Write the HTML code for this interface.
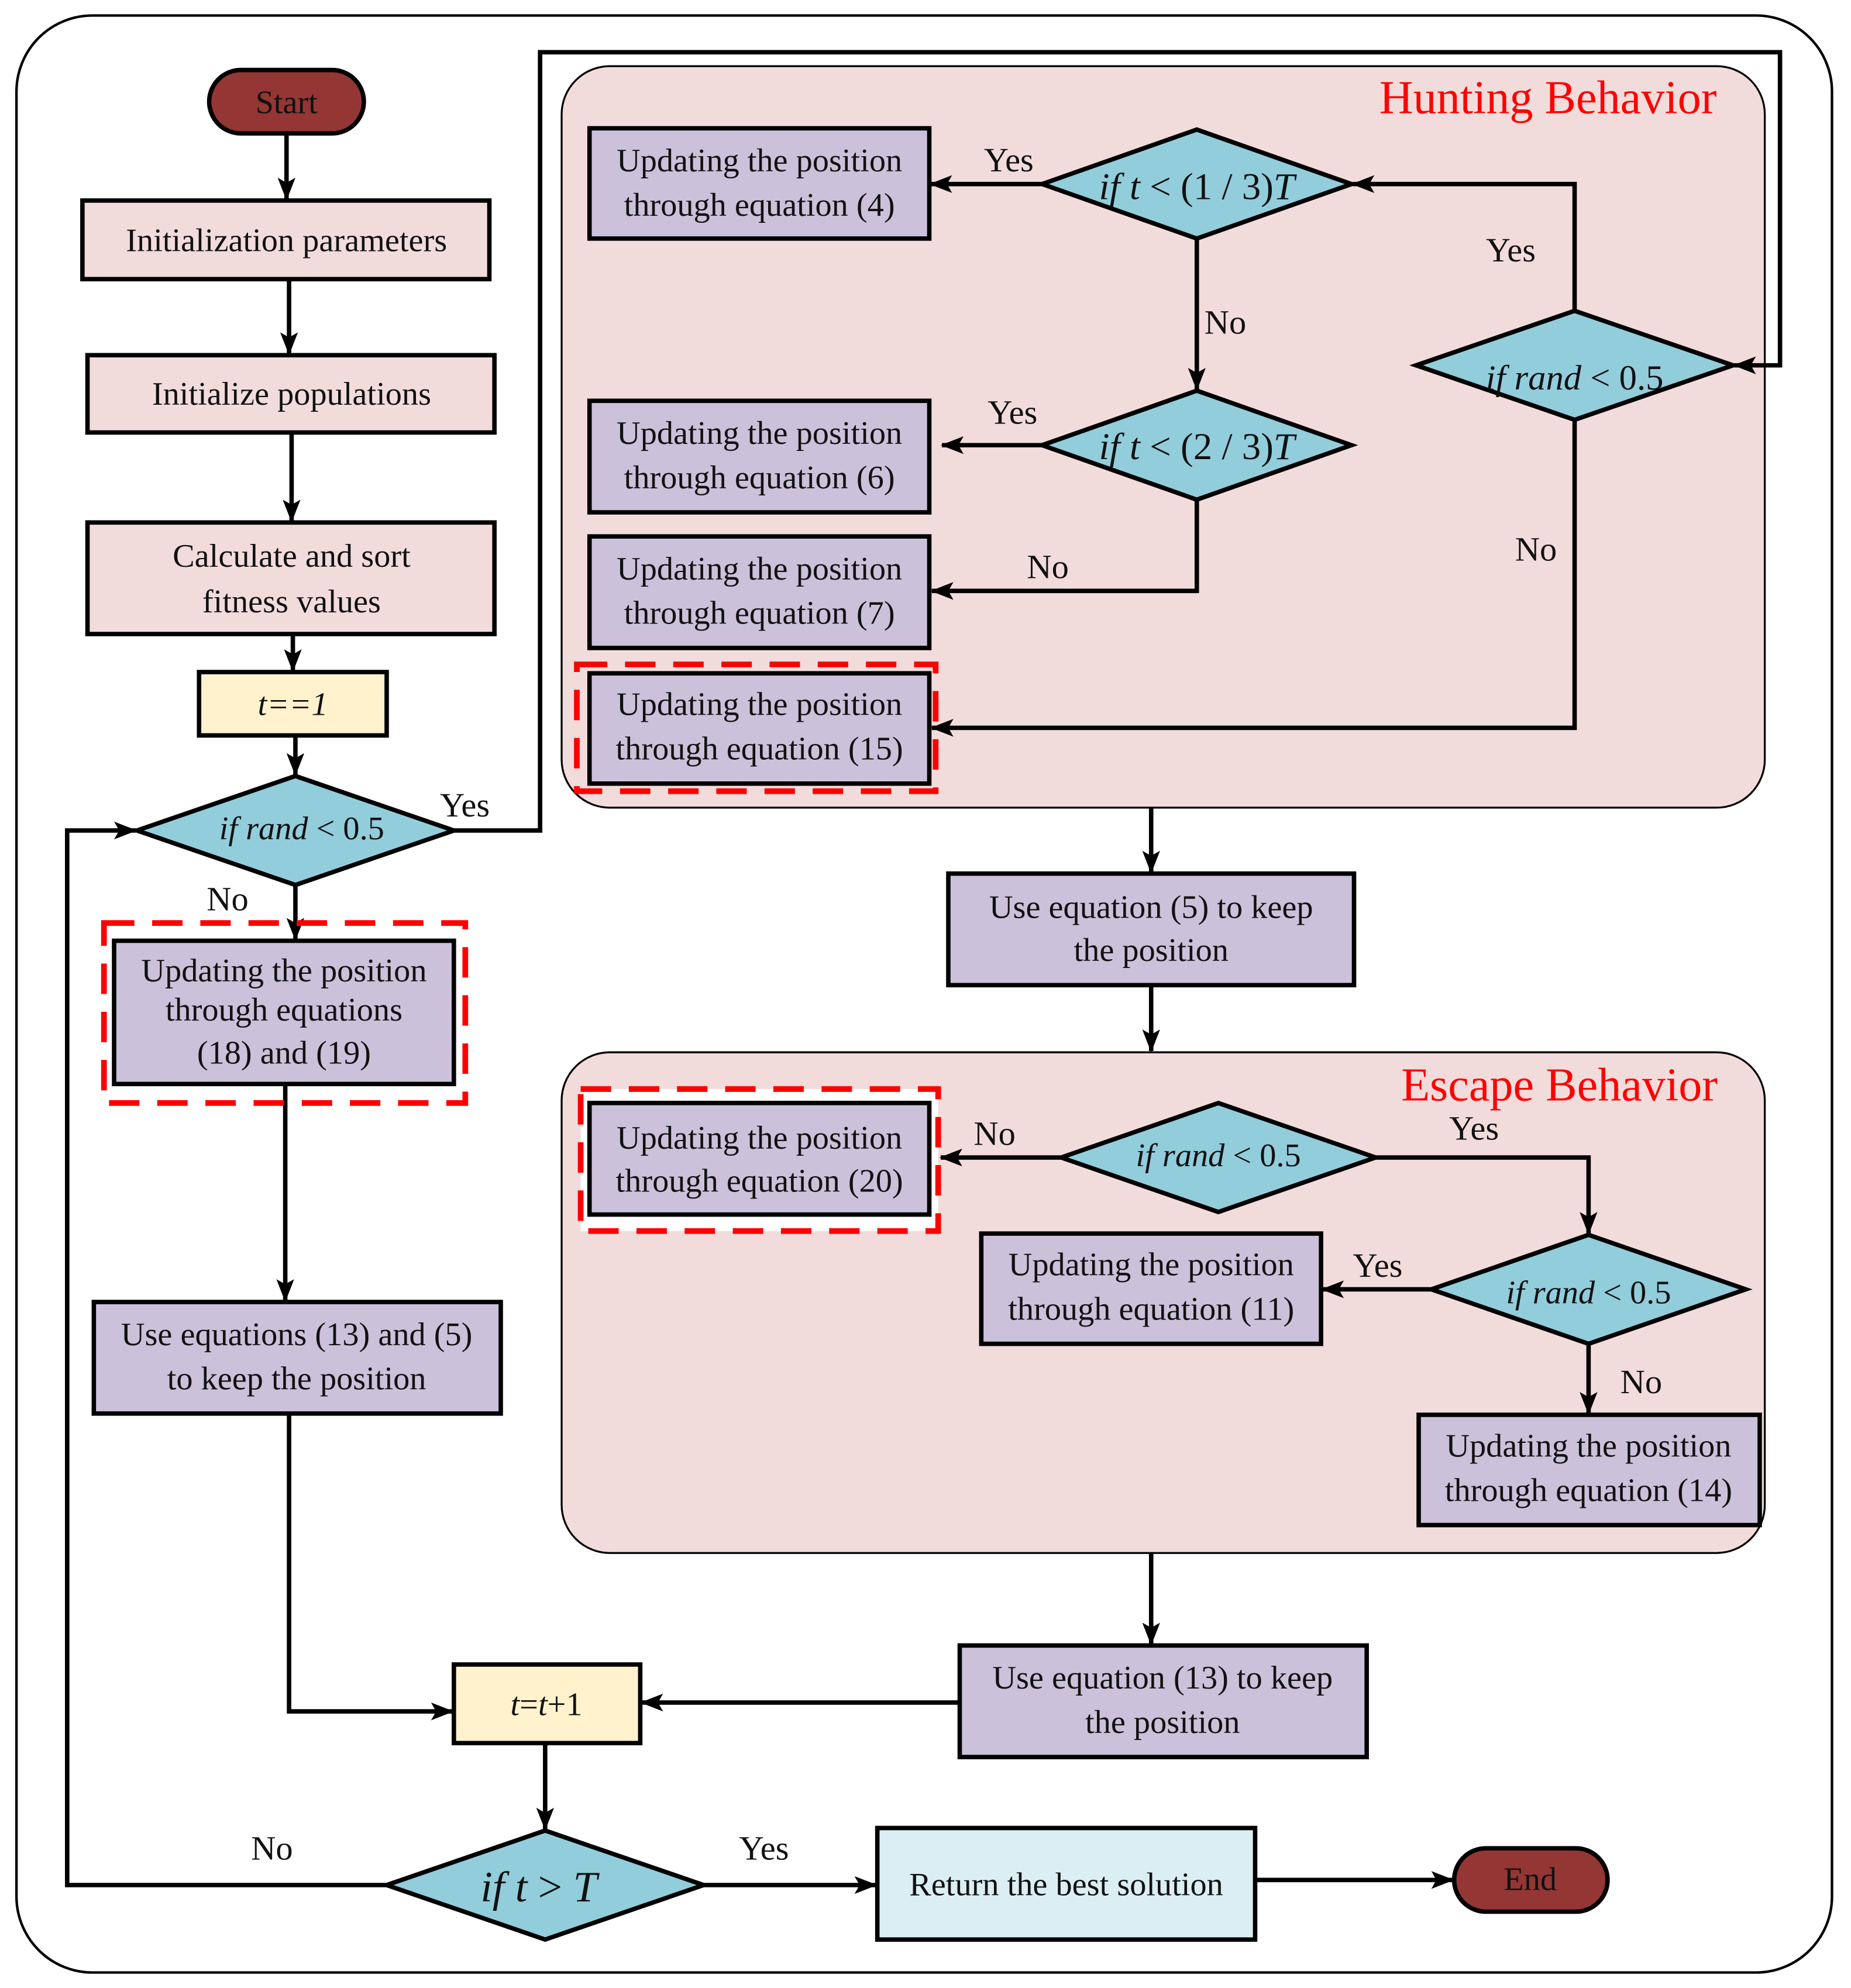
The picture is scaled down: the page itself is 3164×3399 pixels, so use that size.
<!DOCTYPE html>
<html><head><meta charset="utf-8"><style>
html,body{margin:0;padding:0;background:#fff}
svg{display:block}
text{font-family:"Liberation Serif",serif;fill:#111}
</style></head><body>
<svg width="3164" height="3399" viewBox="0 0 1460 1568" xmlns="http://www.w3.org/2000/svg">
<defs>
<marker id="a" markerWidth="18" markerHeight="14" refX="17" refY="7" orient="auto" markerUnits="userSpaceOnUse" viewBox="0 0 18 14">
<path d="M0,0 L18,7 L0,14 L4,7 z" fill="#000"/></marker>
</defs>
<rect x="13" y="12" width="1432" height="1544" rx="60" fill="#fff" stroke="#000" stroke-width="2"/>
<rect x="443" y="52" width="949" height="585" rx="38" fill="#f2dcdb" stroke="#000" stroke-width="1.5"/>
<rect x="443" y="830" width="949" height="395" rx="38" fill="#f2dcdb" stroke="#000" stroke-width="1.5"/>
<text x="1221" y="89" font-size="37" text-anchor="middle" style="fill:#ff0000">Hunting Behavior</text>
<text x="1230" y="868" font-size="37" text-anchor="middle" style="fill:#ff0000">Escape Behavior</text>

<g stroke="#000" stroke-width="3.5" fill="none">
<line x1="226" y1="105" x2="226" y2="157" marker-end="url(#a)"/>
<line x1="228" y1="220" x2="228" y2="279" marker-end="url(#a)"/>
<line x1="230" y1="341" x2="230" y2="411" marker-end="url(#a)"/>
<line x1="231" y1="500" x2="231" y2="529" marker-end="url(#a)"/>
<line x1="233" y1="580" x2="233" y2="611" marker-end="url(#a)"/>
<line x1="233" y1="698" x2="233" y2="741" marker-end="url(#a)"/>
<line x1="225" y1="855" x2="225" y2="1026" marker-end="url(#a)"/>
<polyline points="228,1115 228,1350 357,1350" marker-end="url(#a)"/>
<line x1="756" y1="1343" x2="506" y2="1343" marker-end="url(#a)"/>
<line x1="430" y1="1375" x2="430" y2="1443" marker-end="url(#a)"/>
<line x1="555" y1="1487" x2="691" y2="1487" marker-end="url(#a)"/>
<line x1="990" y1="1483" x2="1146" y2="1483" marker-end="url(#a)"/>
<polyline points="305,1487 53,1487 53,655 107,655" marker-end="url(#a)"/>
<polyline points="358,655 426,655 426,41 1404,41 1404,288 1368,288" marker-end="url(#a)"/>
<polyline points="1242,245 1242,145 1067,145" marker-end="url(#a)"/>
<line x1="822" y1="145" x2="734" y2="145" marker-end="url(#a)"/>
<line x1="944" y1="188" x2="944" y2="307" marker-end="url(#a)"/>
<line x1="822" y1="351" x2="743" y2="351" marker-end="url(#a)"/>
<polyline points="944,394 944,466 735,466" marker-end="url(#a)"/>
<polyline points="1242,331 1242,574 735,574" marker-end="url(#a)"/>
<line x1="908" y1="637" x2="908" y2="688" marker-end="url(#a)"/>
<line x1="908" y1="777" x2="908" y2="829" marker-end="url(#a)"/>
<line x1="837" y1="913" x2="742" y2="913" marker-end="url(#a)"/>
<polyline points="1085,913 1253,913 1253,973" marker-end="url(#a)"/>
<line x1="1129" y1="1017" x2="1043" y2="1017" marker-end="url(#a)"/>
<line x1="1253" y1="1060" x2="1253" y2="1115" marker-end="url(#a)"/>
<line x1="908" y1="1225" x2="908" y2="1297" marker-end="url(#a)"/>
</g>

<g stroke="#ff0000" stroke-width="4.5" stroke-dasharray="24,14">
<rect x="82" y="728" width="285" height="142" fill="none"/>
<rect x="455" y="524" width="283" height="100" fill="none"/>
<rect x="458" y="859" width="282" height="112" fill="#fff"/>
</g>

<g stroke="#000" stroke-width="3.5">
<rect x="165" y="55" width="122" height="50" rx="25" fill="#943634"/>
<rect x="65" y="158" width="321" height="62" fill="#f2dcdb"/>
<rect x="69" y="280" width="321" height="61" fill="#f2dcdb"/>
<rect x="69" y="412" width="321" height="88" fill="#f2dcdb"/>
<rect x="157" y="530" width="148" height="50" fill="#fff2cc"/>
<polygon points="108,655 233,612 358,655 233,698" fill="#92cddc"/>
<rect x="90" y="742" width="268" height="113" fill="#ccc1da"/>
<rect x="74" y="1027" width="321" height="88" fill="#ccc1da"/>
<rect x="358" y="1313" width="147" height="62" fill="#fff2cc"/>
<polygon points="305,1487 430,1444 555,1487 430,1530" fill="#92cddc"/>
<rect x="692" y="1442" width="298" height="88" fill="#dbeef4"/>
<rect x="1147" y="1458" width="121" height="50" rx="25" fill="#943634"/>
<rect x="465" y="101" width="268" height="87" fill="#ccc1da"/>
<polygon points="822,145 944,102 1066,145 944,188" fill="#92cddc"/>
<polygon points="1117,288 1242,245 1367,288 1242,331" fill="#92cddc"/>
<rect x="465" y="316" width="268" height="88" fill="#ccc1da"/>
<polygon points="822,351 944,308 1066,351 944,394" fill="#92cddc"/>
<rect x="465" y="423" width="268" height="88" fill="#ccc1da"/>
<rect x="465" y="531" width="268" height="87" fill="#ccc1da"/>
<rect x="748" y="689" width="320" height="88" fill="#ccc1da"/>
<rect x="465" y="870" width="268" height="88" fill="#ccc1da"/>
<polygon points="837,913 961,870 1085,913 961,956" fill="#92cddc"/>
<rect x="774" y="973" width="268" height="87" fill="#ccc1da"/>
<polygon points="1129,1017 1253,974 1377,1017 1253,1060" fill="#92cddc"/>
<rect x="1119" y="1116" width="269" height="87" fill="#ccc1da"/>
<rect x="757" y="1298" width="321" height="88" fill="#ccc1da"/>
</g>

<g font-size="26" text-anchor="middle">
<text x="226" y="89">Start</text>
<text x="226" y="198">Initialization parameters</text>
<text x="230" y="319">Initialize populations</text>
<text x="230" y="447">Calculate and sort</text>
<text x="230" y="483">fitness values</text>
<text x="231" y="564" font-style="italic">t==1</text>
<text x="238" y="662"><tspan font-style="italic">if  rand</tspan> &lt; 0.5</text>
<text x="224" y="774">Updating the position</text>
<text x="224" y="805">through equations</text>
<text x="224" y="839">(18) and (19)</text>
<text x="234" y="1061">Use equations (13) and (5)</text>
<text x="234" y="1096">to keep the position</text>
<text x="431" y="1353"><tspan font-style="italic">t</tspan>=<tspan font-style="italic">t</tspan>+1</text>
<text x="425" y="1500" font-size="34"><tspan font-style="italic">if  t</tspan> &gt; <tspan font-style="italic">T</tspan></text>
<text x="841" y="1495">Return the best solution</text>
<text x="1207" y="1491">End</text>
<text x="599" y="135">Updating the position</text>
<text x="599" y="170">through equation (4)</text>
<text x="944" y="157" font-size="30"><tspan font-style="italic">if t</tspan> &lt; (1 / 3)<tspan font-style="italic">T</tspan></text>
<text x="1242" y="307" font-size="28"><tspan font-style="italic">if  rand</tspan> &lt; 0.5</text>
<text x="599" y="350">Updating the position</text>
<text x="599" y="385">through equation (6)</text>
<text x="944" y="362" font-size="30"><tspan font-style="italic">if t</tspan> &lt; (2 / 3)<tspan font-style="italic">T</tspan></text>
<text x="599" y="457">Updating the position</text>
<text x="599" y="492">through equation (7)</text>
<text x="599" y="564">Updating the position</text>
<text x="599" y="599">through equation (15)</text>
<text x="908" y="724">Use equation (5) to keep</text>
<text x="908" y="758">the position</text>
<text x="599" y="906">Updating the position</text>
<text x="599" y="940">through equation (20)</text>
<text x="961" y="920"><tspan font-style="italic">if  rand</tspan> &lt; 0.5</text>
<text x="908" y="1006">Updating the position</text>
<text x="908" y="1041">through equation (11)</text>
<text x="1253" y="1028"><tspan font-style="italic">if  rand</tspan> &lt; 0.5</text>
<text x="1253" y="1149">Updating the position</text>
<text x="1253" y="1184">through equation (14)</text>
<text x="917" y="1332">Use equation (13) to keep</text>
<text x="917" y="1367">the position</text>
</g>

<g font-size="27">
<text x="347" y="644">Yes</text>
<text x="163" y="718">No</text>
<text x="198" y="1467">No</text>
<text x="583" y="1467">Yes</text>
<text x="776" y="135">Yes</text>
<text x="1172" y="206">Yes</text>
<text x="950" y="263">No</text>
<text x="779" y="334">Yes</text>
<text x="810" y="456">No</text>
<text x="1195" y="442">No</text>
<text x="768" y="903">No</text>
<text x="1143" y="899">Yes</text>
<text x="1067" y="1007">Yes</text>
<text x="1278" y="1099">No</text>
</g>
</svg>
</body></html>
